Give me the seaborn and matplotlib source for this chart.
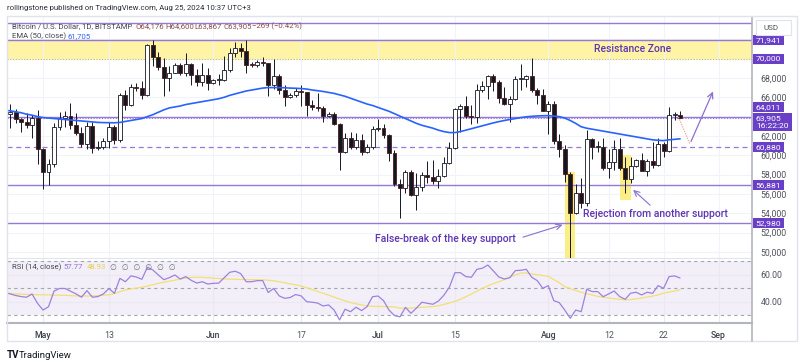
import numpy as np
import pandas as pd
import seaborn as sns
import matplotlib.pyplot as plt
import matplotlib.dates as mdates
import matplotlib.transforms as mtransforms
from matplotlib.patches import Rectangle
from matplotlib.lines import Line2D

W, H = 800, 364

# daily BTC/USD candles, Apr 24 .. Aug 25 2024
dates = pd.date_range('2024-04-24', '2024-08-25', freq='D')
opens = [66400, 64300, 64480, 63760, 63430, 63120, 63850,
         60620, 58260, 59110, 62880, 63870, 64030, 63150, 62320, 61190, 63070,
         60790, 60830, 61460, 62920, 61560, 66230, 65240, 67030, 66920, 66270,
         71430, 70140, 69120, 67950, 68530, 69300, 68500, 69400, 68350, 67600, 68350,
         67500, 67750, 67760, 68800, 70550, 71100, 70800, 69350, 69300, 69650,
         69500, 67300, 68250, 66750, 66000, 66200, 66650, 66500, 65150, 64950,
         64850, 64100, 64250, 63200, 60300, 61800, 60850, 61600, 60300, 60900,
         62700, 62850, 62050, 60200, 57050, 56650, 58250, 55850, 56700, 57950,
         57750, 57350, 57900, 59200, 60800, 64750, 65050, 64100, 63950, 66700,
         67150, 68150, 67550, 65900, 65350, 65800, 67900, 67900, 68250, 66800, 66200,
         64600, 65350, 61500, 60700, 58100, 54000, 56050, 55100, 61700, 60900,
         60900, 58700, 59350, 60600, 58700, 57550, 58900, 59500, 58400, 59400,
         59000, 61150, 60400, 64150, 64176]
highs = [67050, 65300, 64800, 63900, 64350, 64200, 64700,
         60800, 59600, 63300, 64500, 64600, 65450, 64400, 62950, 63400, 63450,
         61450, 61800, 63400, 63100, 66450, 66700, 67400, 67450, 67700, 71500,
         71950, 70650, 70050, 69200, 69500, 69550, 70600, 69550, 68900, 69500, 69000,
         67850, 68400, 70250, 71050, 71700, 71600, 71950, 69600, 69900, 70150,
         69550, 69950, 68400, 67300, 66400, 66950, 67250, 66550, 65700, 66450,
         65050, 64500, 64500, 63350, 62300, 62450, 62350, 62200, 61150, 63000,
         63800, 63250, 62250, 60500, 57500, 58450, 58450, 58200, 58250, 59450,
         59500, 58550, 59850, 61400, 64900, 65350, 66100, 65150, 67400, 67650,
         68350, 68450, 67800, 67100, 66100, 68250, 69400, 68300, 70050, 66950, 66850,
         65600, 65600, 62200, 61100, 58300, 57000, 57700, 62650, 61750, 61450,
         61800, 60700, 61550, 61750, 59800, 59800, 59650, 60250, 59600, 61400,
         61800, 61400, 64950, 64500, 64600]
lows = [63600, 62800, 63300, 62400, 62800, 61800, 59100,
        56550, 56950, 58800, 62600, 62950, 62750, 62100, 60900, 60650, 60200,
        60500, 60650, 60800, 61150, 61350, 64650, 65100, 66650, 65850, 66100,
        69200, 68850, 66150, 66600, 68500, 68350, 68250, 67250, 67150, 67150, 66700,
        67400, 67300, 67650, 68600, 70200, 70150, 68500, 69150, 69150, 69250,
        66100, 66900, 66300, 65100, 65900, 66050, 65100, 64100, 64700, 64550,
        63400, 63950, 63100, 58450, 60250, 60650, 60600, 60050, 60250, 60700,
        62500, 61800, 59450, 56800, 53500, 56050, 55750, 54300, 56300, 57150,
        57050, 56600, 57800, 59150, 60650, 62450, 63900, 63250, 63350, 66550,
        65850, 66600, 65450, 65150, 63450, 65750, 66700, 67050, 66500, 65300, 64550,
        62250, 61200, 59850, 57200, 49000, 53900, 54550, 54750, 59600, 60300,
        58450, 57700, 58450, 58450, 56150, 57150, 58800, 58450, 57850, 58650,
        58850, 59850, 60350, 63600, 63867]
closes = [64300, 64480, 63760, 63430, 63120, 63850, 60620,
          58260, 59110, 62880, 63870, 64030, 63150, 62320, 61190, 63070, 60790,
          60830, 61460, 62920, 61560, 66230, 65240, 67030, 66920, 66270, 71430,
          70140, 69120, 67950, 68530, 69300, 68500, 69400, 68350, 67600, 68350, 67500,
          67750, 67760, 68800, 70550, 71100, 70800, 69350, 69300, 69650, 69500,
          67300, 68250, 66750, 66000, 66200, 66650, 66500, 65150, 64950, 64850,
          64100, 64250, 63200, 60300, 61800, 60850, 61600, 60300, 60900, 62700,
          62850, 62050, 60200, 57050, 56650, 58250, 55850, 56700, 57950, 57750,
          57350, 57900, 59200, 60800, 64750, 65050, 64100, 63950, 66700, 67150,
          68150, 67550, 65900, 65350, 65800, 67900, 67900, 68250, 66800, 66200, 64600,
          65350, 61500, 60700, 58100, 54000, 56050, 55100, 61700, 60900, 60900,
          58700, 59350, 60600, 58700, 57550, 58900, 59500, 58400, 59400, 59000,
          61150, 60400, 64150, 64176, 63905]
ema50 = [64650, 64600, 64500, 64400, 64250, 64150, 64000,
         63900, 63850, 63800, 63750, 63700, 63650, 63600, 63550, 63500, 63450,
         63400, 63380, 63370, 63360, 63400, 63500, 63600, 63700, 63800, 64000,
         64200, 64450, 64700, 64900, 65000, 65100, 65250, 65350, 65450, 65550, 65650,
         65750, 65850, 66000, 66200, 66350, 66500, 66650, 66750, 66850, 66950,
         67000, 67000, 67000, 66980, 66950, 66930, 66900, 66850, 66750, 66680,
         66600, 66500, 66400, 66250, 66100, 65900, 65700, 65500, 65300, 65150,
         64950, 64750, 64550, 64300, 64050, 63800, 63550, 63300, 63100, 62950,
         62800, 62600, 62450, 62350, 62350, 62450, 62600, 62750, 62900, 63050,
         63200, 63350, 63480, 63600, 63700, 63800, 63900, 63980, 64030, 64070, 64090,
         64100, 64050, 64000, 63850, 63600, 63300, 62950, 62800, 62700, 62600,
         62500, 62400, 62300, 62200, 62100, 62000, 61900, 61800, 61700, 61600,
         61550, 61520, 61600, 61650, 61705]
rsi = [47.0, 46.0, 44.8, 44.0, 43.5, 45.9, 39.0,
       34.0, 36.5, 48.0, 50.0, 50.0, 48.0, 46.0, 43.5, 48.4, 43.5,
       44.0, 46.0, 50.0, 46.4, 57.5, 55.0, 59.3, 58.5, 56.8, 65.7,
       63.7, 60.0, 56.5, 58.0, 60.0, 57.0, 58.8, 56.0, 54.0, 55.0, 53.3,
       53.8, 54.0, 58.0, 62.0, 62.8, 61.0, 55.0, 55.0, 55.8, 55.8,
       47.0, 50.0, 44.5, 42.7, 43.3, 45.5, 44.5, 40.2, 39.8, 39.2,
       37.0, 37.8, 34.0, 26.7, 34.6, 32.8, 36.1, 33.6, 36.5, 43.9,
       44.4, 41.0, 34.0, 29.9, 29.0, 36.0, 31.6, 35.5, 39.8, 39.0,
       38.3, 40.7, 45.0, 51.0, 61.7, 61.7, 58.8, 58.3, 64.2, 65.0,
       67.4, 63.0, 58.5, 57.0, 58.0, 63.2, 63.5, 64.2, 58.3, 55.8, 50.1,
       52.1, 41.0, 39.5, 34.0, 27.9, 34.0, 32.8, 49.4, 47.7, 47.7,
       43.9, 46.0, 48.1, 44.0, 42.0, 46.5, 47.2, 45.2, 47.2, 46.4,
       52.1, 50.1, 58.8, 59.3, 57.77]
rsi_ma = [46.5, 46.3, 46.0, 45.8, 45.6, 45.5, 45.4,
          45.3, 45.2, 45.1, 45.0, 44.9, 44.7, 44.5, 44.4, 44.4, 44.5,
          44.7, 45.0, 45.3, 46.2, 47.6, 48.8, 49.6, 50.3, 50.9, 51.8,
          52.8, 53.8, 54.6, 55.4, 56.2, 57.0, 57.7, 58.2, 58.3, 58.2, 58.0,
          57.7, 57.4, 57.1, 56.9, 56.8, 56.7, 56.6, 56.5, 56.5, 56.4,
          56.1, 55.7, 55.0, 54.2, 53.4, 52.7, 51.8, 50.6, 49.2, 47.8,
          46.4, 45.1, 43.6, 42.2, 40.8, 39.6, 38.6, 37.8, 37.1, 36.8,
          36.7, 36.6, 36.5, 36.3, 35.4, 35.4, 35.5, 35.7, 36.0, 36.3,
          36.6, 37.2, 38.2, 39.2, 40.5, 42.0, 43.9, 45.8, 48.0, 50.1,
          51.9, 53.6, 55.0, 56.6, 58.4, 60.0, 61.5, 61.5, 60.8, 60.2, 59.6,
          59.0, 56.6, 54.3, 51.3, 50.0, 48.5, 47.2, 46.0, 45.2, 44.1,
          43.5, 43.0, 42.4, 42.0, 41.6, 41.8, 42.3, 42.9, 43.7, 44.3,
          45.3, 46.5, 47.3, 48.1, 48.93]

top_line = 73700
zone_low, zone_high = 70000, 71941
key_levels = [64011, 56881, 52980]
dashed_level = 60880
last_close = 63905

tick_dates = ['2024-05-01', '2024-05-13', '2024-06-01', '2024-06-17', '2024-07-01',
              '2024-07-15', '2024-08-01', '2024-08-12', '2024-08-22', '2024-09-01']
tick_labels = ['May', '13', 'Jun', '17', 'Jul', '15', 'Aug', '12', '22', 'Sep']
price_ticks = [50000, 52000, 54000, 56000, 58000, 60000, 62000, 64000, 66000, 68000, 70000, 72000]
price_labels = ['50,000', '52,000', '54,000', '56,000', '58,000', '60,000', '62,000', '',
                '66,000', '68,000', '', '']

df = pd.DataFrame({'date': dates, 'open': opens, 'high': highs, 'low': lows,
                   'close': closes, 'ema': ema50, 'rsi': rsi, 'rsi_ma': rsi_ma})

PURPLE = '#6a3fc7'
LINE = '#9479d8'
TXT = '#5e35b1'
GREY = '#50535e'

sns.set_style('white')
plt.rcParams['font.family'] = ['Roboto', 'DejaVu Sans']

fig = plt.figure(figsize=(W / 100, H / 100), dpi=100)


def px_box(x0, y0, x1, y1):
    return [x0 / W, 1 - y1 / H, (x1 - x0) / W, (y1 - y0) / H]


def d(s):
    return mdates.date2num(pd.Timestamp(s))


ax = fig.add_axes(px_box(7, 17, 752, 258))
rx = fig.add_axes(px_box(7, 259, 752, 323), sharex=ax)

# outer frame
fig.add_artist(Rectangle((7 / W, 1 - 341 / H), 790 / W, 325 / H, transform=fig.transFigure,
                         fill=False, edgecolor='#e0e3eb', lw=1))

# resistance zone and levels
ax.axhspan(zone_low, zone_high, color='#fff4a6', lw=0, zorder=0)
ax.axhline(zone_high, color=LINE, lw=1.0, zorder=2)
ax.axhline(zone_low, color='#c9b867', lw=0.8, ls=(0, (1, 1.5)), zorder=2)
ax.axhline(top_line, color=LINE, lw=1.0, zorder=2)
for lv in key_levels:
    ax.axhline(lv, color=LINE, lw=1.0, zorder=2)
ax.axhline(dashed_level, color=LINE, lw=0.9, ls=(0, (4, 3)), zorder=2)
ax.axhline(last_close, color=LINE, lw=0.8, ls=(0, (1, 1.5)), zorder=2)

# highlight boxes
ax.add_patch(Rectangle((d('2024-08-05') - 0.9, 49000), 1.8, 58300 - 49000,
                       color='#fbee84', lw=0, zorder=1))
ax.add_patch(Rectangle((d('2024-08-15') - 1.0, 55380), 2.0, 60030 - 55380,
                       color='#fbee84', lw=0, zorder=1))

# candles
up = df['close'] >= df['open']
body_lo = np.minimum(df['open'], df['close'])
body_h = np.maximum((df['close'] - df['open']).abs(), 90)
ax.vlines(df['date'], df['low'], df['high'], color='#131722', lw=0.7, zorder=3)
ax.bar(df['date'], body_h, bottom=body_lo, width=0.72,
       color=np.where(up, 'white', '#131722'),
       edgecolor=np.where(up, '#131722', '#4a1c1c'), lw=0.6, zorder=4)

sns.lineplot(data=df, x='date', y='ema', ax=ax, color='#2962ff', lw=1.2, zorder=5)

# annotations
ax.text(d('2024-08-09 10:00'), 71000, 'Resistance Zone', color=TXT, fontsize=7.5,
        fontweight='medium', va='center', ha='left', zorder=8)
ax.text(d('2024-06-30 12:00'), 51340, 'False-break of the key support', color=TXT,
        fontsize=7.5, fontweight='medium', va='center', ha='left', zorder=8)
ax.annotate('', xy=(d('2024-08-04 02:00'), 52900), xytext=(d('2024-07-26 22:00'), 51450),
            arrowprops=dict(arrowstyle='->', color='#8c6fd0', lw=0.8), zorder=8)
ax.text(d('2024-08-07 10:00'), 53930, 'Rejection from another support', color=TXT,
        fontsize=7.5, fontweight='medium', va='center', ha='left', zorder=8)
ax.annotate('', xy=(d('2024-08-16 02:00'), 56620), xytext=(d('2024-08-19 22:00'), 54650),
            arrowprops=dict(arrowstyle='->', color='#8c6fd0', lw=0.8), zorder=8)
ax.plot([d('2024-08-24 17:00'), d('2024-08-26 19:00')], [63960, 61170],
        color='#f0a58a', lw=0.9, ls=(0, (1, 1)), zorder=6)
ax.annotate('', xy=(d('2024-08-31 05:00'), 66860), xytext=(d('2024-08-26 19:00'), 61170),
            arrowprops=dict(arrowstyle='->', color='#8c6fd0', lw=0.9), zorder=8)

# main axis cosmetics
x0 = d('2024-04-24') + 0.44
x1 = d('2024-04-24') + 136.1
ax.set_xlim(x0, x1)
ax.set_ylim(49380, 74300)
ax.set_xlabel('')
ax.set_ylabel('')
ax.yaxis.tick_right()
ax.set_yticks(price_ticks)
ax.set_yticklabels(price_labels)
ax.set_xticks([d(t) for t in tick_dates])
ax.tick_params(axis='y', length=0, pad=6, labelsize=6.3, labelcolor=GREY)
ax.tick_params(axis='x', length=0, labelbottom=False)
ax.grid(True, color='#f0f3fa', lw=0.8)
ax.set_axisbelow(True)
for s in ['top', 'left']:
    ax.spines[s].set_visible(False)
ax.spines['bottom'].set_color('#e0e3eb')
ax.spines['right'].set_color('#b2b5be')
ax.spines['right'].set_linewidth(1.2)

# price tags on the scale
blend = mtransforms.blended_transform_factory(ax.transAxes, ax.transData)
ppx = (74300 - 49380) / 241.0
tags = [(71941, '71,941', 71941), (70000, '70,000', 70000), (64011, '64,011', 65000),
        (60880, '60,880', 60880), (56881, '56,881', 56881), (52980, '52,980', 52980)]
for val, lab, ypos in tags:
    ax.add_patch(Rectangle((1.001, ypos - 5 * ppx), 31 / 745, 10 * ppx, transform=blend,
                           color=PURPLE, lw=0, clip_on=False, zorder=10))
    ax.text(1.001 + 15.5 / 745, ypos, lab, transform=blend, color='white', fontsize=6.1,
            ha='center', va='center', clip_on=False, zorder=11)
ax.add_patch(Rectangle((1.001, 63440 - 9 * ppx), 39 / 745, 18 * ppx, transform=blend,
                       color=PURPLE, lw=0, clip_on=False, zorder=10))
ax.text(1.001 + 15.5 / 745, 63440 + 4.3 * ppx, '63,905', transform=blend, color='white',
        fontsize=6.1, ha='center', va='center', clip_on=False, zorder=11)
ax.text(1.001 + 19.5 / 745, 63440 - 4.3 * ppx, '16:22:20', transform=blend, color='white',
        fontsize=6.1, ha='center', va='center', clip_on=False, zorder=11)

# RSI pane
rx.axhspan(30, 70, color='#7e57c2', alpha=0.09, lw=0, zorder=0)
for lv in [70, 50, 30]:
    rx.axhline(lv, color='#a3a6af', lw=0.8, ls=(0, (3, 3)), zorder=1)
sns.lineplot(data=df, x='date', y='rsi_ma', ax=rx, color='#f3df72', lw=0.9, zorder=3)
sns.lineplot(data=df, x='date', y='rsi', ax=rx, color='#9c82dc', lw=0.9, zorder=4)
rx.set_ylim(24.4, 71.85)
rx.set_xlim(x0, x1)
rx.set_xlabel('')
rx.set_ylabel('')
rx.yaxis.tick_right()
rx.set_yticks([40, 60])
rx.set_yticklabels(['40.00', '60.00'])
rx.set_xticks([d(t) for t in tick_dates])
rx.set_xticklabels(tick_labels)
rx.tick_params(axis='y', length=0, pad=6, labelsize=6.3, labelcolor=GREY)
rx.tick_params(axis='x', length=0, pad=6, labelsize=6.3, labelcolor=GREY)
for lab in rx.get_xticklabels():
    if lab.get_text() in ('May', 'Jun', 'Jul', 'Aug', 'Sep'):
        lab.set_fontweight('medium')
        lab.set_color('#3d404a')
rx.grid(True, color='#ebe8f3', lw=0.8)
rx.set_axisbelow(True)
rx.spines['top'].set_visible(False)
rx.spines['left'].set_visible(False)
rx.spines['bottom'].set_color('#b2b5be')
rx.spines['bottom'].set_linewidth(1.5)
rx.spines['right'].set_color('#b2b5be')
rx.spines['right'].set_linewidth(1.2)
fig.add_artist(Line2D([752 / W, 752 / W], [1 - 341 / H, 1 - 323 / H], transform=fig.transFigure,
                      color='#b2b5be', lw=1.2))

# header / legends
def ftxt(x, y, s, **kw):
    fig.text(x / W, 1 - y / H, s, va='center', ha='left', **kw)


ftxt(7, 8, 'rollingstone published on TradingView.com, Aug 25, 2024 10:37 UTC+3',
     fontsize=5.6, color='#2a2e39')
ftxt(12, 26, 'Bitcoin / U.S. Dollar, 1D, BITSTAMP', fontsize=5.6, color='#434651')
ohlc_color = '#8a4b4b'
ftxt(135, 26, 'O64,176', fontsize=5.6, color=ohlc_color)
ftxt(165, 26, 'H64,600', fontsize=5.6, color=ohlc_color)
ftxt(194, 26, 'L63,867', fontsize=5.6, color=ohlc_color)
ftxt(223, 26, 'C63,905', fontsize=5.6, color=ohlc_color)
ftxt(252, 26, '\u2212269 (\u22120.42%)', fontsize=5.6, color=ohlc_color)
ftxt(12, 36, 'EMA (50, close)', fontsize=5.6, color='#434651')
ftxt(67, 36, '61,705', fontsize=5.6, color='#2962ff')
ftxt(12, 267, 'RSI (14, close)', fontsize=5.6, color='#434651')
ftxt(63, 267, '57.77', fontsize=5.6, color='#8f74d6')
ftxt(87, 267, '48.93', fontsize=5.6, color='#e6cf4e')
ftxt(110, 267, '\u2205  \u2205  \u2205  \u2205  \u2205  \u2205', fontsize=5.6, color='#6a6d78',
     family=['DejaVu Sans'])

# USD box
fig.add_artist(Rectangle((756 / W, 1 - 35 / H), 35 / W, 15 / H, transform=fig.transFigure,
                         facecolor='white', edgecolor='#e0e3eb', lw=0.8))
ftxt(763, 27.5, 'USD', fontsize=5.8, color=GREY)

# footer logo
ftxt(7, 355, 'TV', fontsize=7, color='#131722', fontweight='bold')
ftxt(19, 355, 'TradingView', fontsize=6.8, color='#131722')

fig.savefig('out.png', dpi=100)
